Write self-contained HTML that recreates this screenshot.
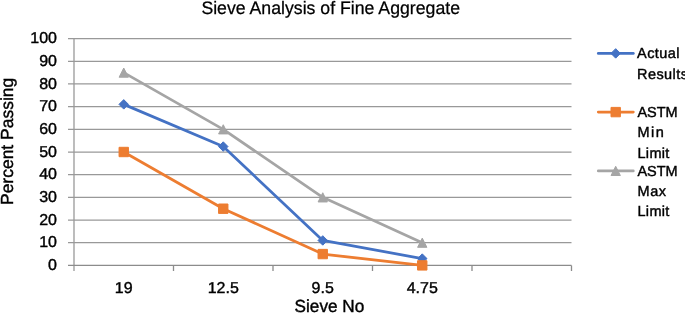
<!DOCTYPE html>
<html><head><meta charset="utf-8">
<style>
html,body{margin:0;padding:0;background:#fff;width:685px;height:313px;overflow:hidden}
svg{display:block;will-change:transform}
text{font-family:"Liberation Sans",sans-serif;text-rendering:geometricPrecision;fill:#000;stroke:#000;stroke-width:0.4px}
</style></head>
<body>
<svg width="685" height="313" viewBox="0 0 685 313">
<rect width="685" height="313" fill="#fff"/>
<text x="201.4" y="13.9" font-size="18" textLength="258.6" style="stroke-width:0.25px" lengthAdjust="spacingAndGlyphs">Sieve Analysis of Fine Aggregate</text>
<path d="M68 242.72H571.5M68 220.04H571.5M68 197.36H571.5M68 174.68H571.5M68 152H571.5M68 129.32H571.5M68 106.64H571.5M68 83.96H571.5M68 61.28H571.5M68 38.6H571.5" stroke="#999999" stroke-width="1.25" fill="none"/>
<path d="M74 38.6V271" stroke="#999999" stroke-width="1.3" fill="none"/>
<path d="M68 265.4H571.5M173.5 265.4V271M273 265.4V271M372.5 265.4V271M472 265.4V271M571.5 265.4V271" stroke="#8c8c8c" stroke-width="1.3" fill="none"/>
<g font-size="15.75" text-anchor="end" style="stroke-width:0.2px">
<text x="57" y="270" textLength="8.9" lengthAdjust="spacingAndGlyphs">0</text>
<text x="57" y="247.32" textLength="17.8" lengthAdjust="spacingAndGlyphs">10</text>
<text x="57" y="224.64" textLength="17.8" lengthAdjust="spacingAndGlyphs">20</text>
<text x="57" y="201.96" textLength="17.8" lengthAdjust="spacingAndGlyphs">30</text>
<text x="57" y="179.28" textLength="17.8" lengthAdjust="spacingAndGlyphs">40</text>
<text x="57" y="156.6" textLength="17.8" lengthAdjust="spacingAndGlyphs">50</text>
<text x="57" y="133.92" textLength="17.8" lengthAdjust="spacingAndGlyphs">60</text>
<text x="57" y="111.24" textLength="17.8" lengthAdjust="spacingAndGlyphs">70</text>
<text x="57" y="88.56" textLength="17.8" lengthAdjust="spacingAndGlyphs">80</text>
<text x="57" y="65.88" textLength="17.8" lengthAdjust="spacingAndGlyphs">90</text>
<text x="57" y="43.2" textLength="26.69" lengthAdjust="spacingAndGlyphs">100</text>
</g>
<g font-size="15.75" text-anchor="middle" style="stroke-width:0.2px">
<text x="123.75" y="293.4" textLength="17.8" lengthAdjust="spacingAndGlyphs">19</text>
<text x="223.25" y="293.4" textLength="31.14" lengthAdjust="spacingAndGlyphs">12.5</text>
<text x="322.75" y="293.4" textLength="22.24" lengthAdjust="spacingAndGlyphs">9.5</text>
<text x="422.25" y="293.4" textLength="31.14" lengthAdjust="spacingAndGlyphs">4.75</text>
</g>
<text x="294.6" y="312.2" font-size="17.5" textLength="69.6" lengthAdjust="spacingAndGlyphs">Sieve No</text>
<text transform="translate(13,205) rotate(-90)" font-size="17.5" textLength="127.2" lengthAdjust="spacingAndGlyphs">Percent Passing</text>
<polyline points="123.75,104.37 223.25,146.56 322.75,240.45 422.25,258.6" fill="none" stroke="#4472c4" stroke-width="2.75" stroke-linejoin="round"/>
<path d="M123.75 99.62l4.75 4.75 -4.75 4.75 -4.75 -4.75 4.75 -4.75zM223.25 141.81l4.75 4.75 -4.75 4.75 -4.75 -4.75 4.75 -4.75zM322.75 235.7l4.75 4.75 -4.75 4.75 -4.75 -4.75 4.75 -4.75zM422.25 253.85l4.75 4.75 -4.75 4.75 -4.75 -4.75 4.75 -4.75z" fill="#4472c4" stroke="#4472c4" stroke-width="1.0" stroke-linejoin="round"/>
<polyline points="123.75,152 223.25,208.7 322.75,254.06 422.25,265.4" fill="none" stroke="#ed7d31" stroke-width="2.75" stroke-linejoin="round"/>
<path d="M119.05 147.3h9.4v9.4h-9.4zM218.55 204h9.4v9.4h-9.4zM318.05 249.36h9.4v9.4h-9.4zM417.55 260.7h9.4v9.4h-9.4z" fill="#ed7d31" stroke="#ed7d31" stroke-width="1.0" stroke-linejoin="miter"/>
<polyline points="123.75,72.62 223.25,129.32 322.75,197.36 422.25,242.72" fill="none" stroke="#a5a5a5" stroke-width="2.75" stroke-linejoin="round"/>
<path d="M123.75 68.02l4.65 9.2h-9.3zM223.25 124.72l4.65 9.2h-9.3zM322.75 192.76l4.65 9.2h-9.3zM422.25 238.12l4.65 9.2h-9.3z" fill="#a5a5a5" stroke="#a5a5a5" stroke-width="1.0" stroke-linejoin="round"/>
<path d="M598.3 53.4H633.3" stroke="#4472c4" stroke-width="2.75" stroke-linecap="round"/>
<path d="M615.7 48.65l4.75 4.75 -4.75 4.75 -4.75 -4.75 4.75 -4.75z" fill="#4472c4" stroke="#4472c4" stroke-width="1.0" stroke-linejoin="round"/>
<path d="M598.3 112.1H633.3" stroke="#ed7d31" stroke-width="2.75" stroke-linecap="round"/>
<path d="M611 107.4h9.4v9.4h-9.4z" fill="#ed7d31" stroke="#ed7d31" stroke-width="1.0" stroke-linejoin="miter"/>
<path d="M598.3 170.9H633.3" stroke="#a5a5a5" stroke-width="2.75" stroke-linecap="round"/>
<path d="M615.7 166.3l4.65 9.2h-9.3z" fill="#a5a5a5" stroke="#a5a5a5" stroke-width="1.0" stroke-linejoin="round"/>
<g font-size="14.5" style="stroke-width:0.2px">
<text x="637.1" y="57.9" textLength="42.3" lengthAdjust="spacing">Actual</text>
<text x="637.1" y="78.6" textLength="50.8" lengthAdjust="spacing">Results</text>
<text x="637.4" y="116.8">ASTM</text>
<text x="637.4" y="137.3" textLength="26.5" lengthAdjust="spacing">Min</text>
<text x="637.4" y="157.6" textLength="32" lengthAdjust="spacing">Limit</text>
<text x="637.4" y="175.6">ASTM</text>
<text x="637.4" y="195.9" textLength="28.7" lengthAdjust="spacing">Max</text>
<text x="637.4" y="216.4" textLength="32" lengthAdjust="spacing">Limit</text>
</g>
</svg>
</body></html>
